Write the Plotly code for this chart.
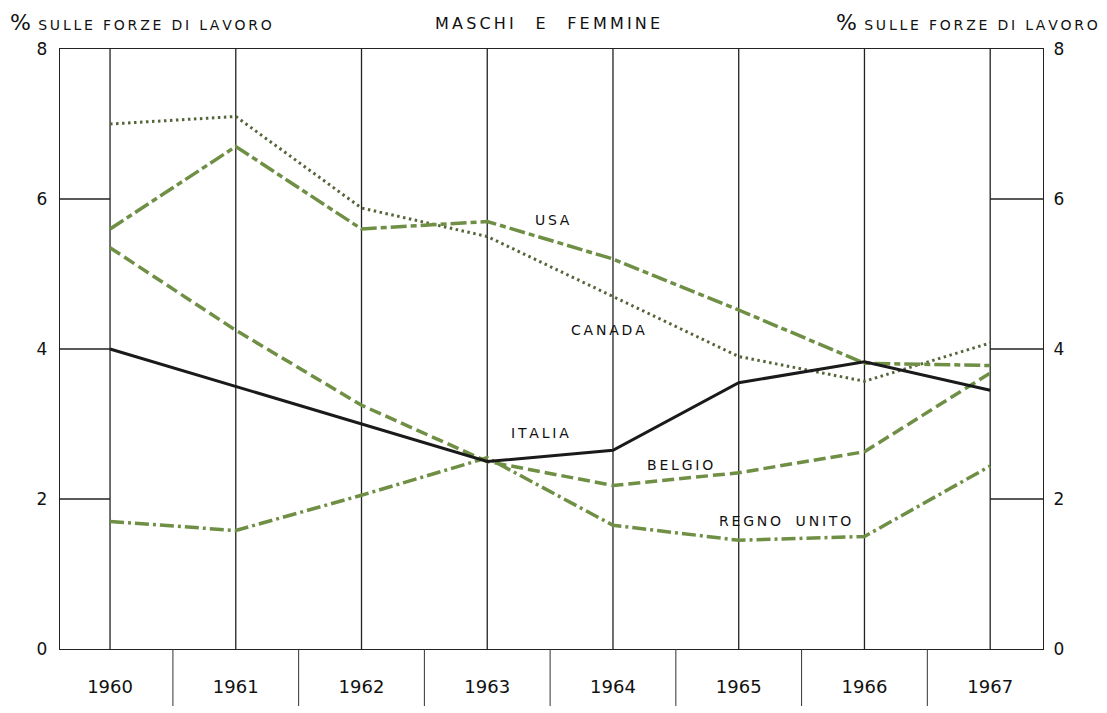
import plotly.graph_objects as go

years = [1960, 1961, 1962, 1963, 1964, 1965, 1966, 1967]
italia = [4.0, 3.5, 3.0, 2.5, 2.65, 3.55, 3.83, 3.45]
usa = [5.6, 6.7, 5.6, 5.7, 5.2, 4.52, 3.81, 3.78]
canada = [7.0, 7.1, 5.88, 5.5, 4.7, 3.9, 3.57, 4.08]
belgio = [5.35, 4.25, 3.25, 2.5, 2.18, 2.35, 2.63, 3.68]
regno_unito = [1.7, 1.58, 2.05, 2.55, 1.65, 1.45, 1.5, 2.44]
y_ticks = [0, 2, 4, 6, 8]
year_labels = [str(y) for y in years]

GREEN = "#6f8f45"
FONT = "DejaVu Sans"
XMIN, XMAX = 1959.602, 1967.42
TS = "\u2009"


def spaced(s, word_gap="  "):
    words = s.split(" ")
    return (TS + word_gap + TS).join(TS.join(list(w)) for w in words)


fig = go.Figure()

fig.add_trace(go.Scatter(x=years, y=canada, mode="lines",
                         line=dict(color="#55653a", width=3, dash="2.5px,3.5px")))
fig.add_trace(go.Scatter(x=years, y=usa, mode="lines",
                         line=dict(color=GREEN, width=3.5, dash="16px,4px,6px,4px")))
fig.add_trace(go.Scatter(x=years, y=belgio, mode="lines",
                         line=dict(color=GREEN, width=3.5, dash="12px,5px")))
fig.add_trace(go.Scatter(x=years, y=regno_unito, mode="lines",
                         line=dict(color=GREEN, width=3.5, dash="14px,4px,3px,4px")))
fig.add_trace(go.Scatter(x=years, y=italia, mode="lines",
                         line=dict(color="#1a1a1a", width=3)))
# invisible trace for right axis
fig.add_trace(go.Scatter(x=[years[0]], y=[0], yaxis="y2", mode="markers",
                         marker=dict(opacity=0), hoverinfo="skip"))

shapes = []
for yr in years:
    shapes.append(dict(type="line", xref="x", yref="y", x0=yr, x1=yr, y0=0, y1=8,
                       line=dict(color="#222", width=1.3), layer="below"))
for yr in years[:-1]:
    shapes.append(dict(type="line", xref="x", yref="paper", x0=yr + 0.5, x1=yr + 0.5,
                       y0=0, y1=-0.095, line=dict(color="#333", width=1)))
for t in [2, 4, 6]:
    shapes.append(dict(type="line", xref="x", yref="y", x0=XMIN, x1=years[0], y0=t, y1=t,
                       line=dict(color="#222", width=1.3)))
    shapes.append(dict(type="line", xref="x", yref="y", x0=years[-1], x1=XMAX, y0=t, y1=t,
                       line=dict(color="#222", width=1.3)))

pct = "<span style='font-size:22px'>%</span>" + TS + " "
head = [
    (pct + spaced("SULLE FORZE DI LAVORO", " "), 8, 22, "left", 14),
    (spaced("MASCHI E FEMMINE", "   "), 547, 24, "center", 16),
    (pct + spaced("SULLE FORZE DI LAVORO", " "), 1100, 22, "right", 14),
]
ann = []
for txt, x, y, xa, sz in head:
    ann.append(dict(text=txt, xref="paper", yref="paper",
                    x=(x - 60) / 983, y=(649 - y) / 600,
                    xanchor=xa, yanchor="middle", showarrow=False,
                    font=dict(family=FONT, size=sz, color="#111")))

labels = [("USA", 1963.52, 5.72), ("CANADA", 1963.96, 4.25),
          ("ITALIA", 1963.42, 2.88), ("BELGIO", 1964.53, 2.45),
          ("REGNO UNITO", 1965.37, 1.71)]
for txt, x, y in labels:
    ann.append(dict(text=spaced(txt, "  "), x=x, y=y, xref="x", yref="y", showarrow=False,
                    font=dict(family=FONT, size=14, color="#111")))

fig.update_layout(
    width=1107, height=713,
    margin=dict(l=60, r=64, t=49, b=64),
    paper_bgcolor="white", plot_bgcolor="white",
    showlegend=False,
    shapes=shapes, annotations=ann,
    xaxis=dict(range=[XMIN, XMAX], tickvals=years, ticktext=year_labels,
               showgrid=False, zeroline=False, showline=True, mirror=True,
               linecolor="#222", linewidth=1.3, ticks="", ticklabelstandoff=21,
               automargin=False,
               tickfont=dict(family=FONT, size=18, color="#111")),
    yaxis=dict(range=[0, 8], tickvals=y_ticks, showgrid=False, zeroline=False,
               showline=True, mirror=True, linecolor="#222", linewidth=1.3, ticks="",
               ticklabelstandoff=8, automargin=False,
               tickfont=dict(family=FONT, size=17, color="#111")),
    yaxis2=dict(range=[0, 8], tickvals=y_ticks, overlaying="y", side="right",
                showgrid=False, zeroline=False, showline=True, linecolor="#222",
                linewidth=1.3, ticks="", automargin=False,
                ticklabelstandoff=6, tickfont=dict(family=FONT, size=17, color="#111")),
)

fig.write_html("out.html", config={"displayModeBar": False},
               post_script="document.body.style.margin='0';document.body.style.padding='0';")
